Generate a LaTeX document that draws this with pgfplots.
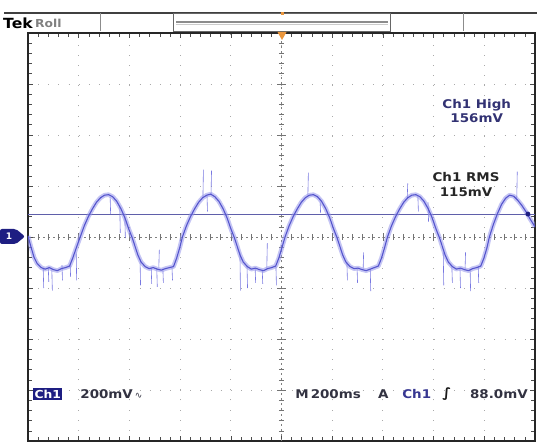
\documentclass[border=0pt]{standalone}
\usepackage{pgfplots}
\pgfplotsset{compat=1.18}
\usepackage{pgfplotstable}
\usepackage{fontspec}
\setmainfont{DejaVu Sans}
\newfontfamily\tek{DejaVu Sans}[FakeStretch=1.12]
\definecolor{trace}{RGB}{85,85,205}
\definecolor{halo}{RGB}{150,150,235}
\definecolor{spike}{RGB}{120,120,225}
\definecolor{navy}{RGB}{30,30,130}
\definecolor{gridc}{RGB}{170,170,170}
\definecolor{txt}{RGB}{50,50,65}
\definecolor{hitxt}{RGB}{50,50,115}
\definecolor{bluetxt}{RGB}{55,55,145}
\definecolor{orangec}{RGB}{235,150,60}
\definecolor{rmsline}{RGB}{95,95,170}

\pgfplotstableread{
x y
0.00 0.02
0.06 -0.20
0.12 -0.40
0.18 -0.52
0.26 -0.60
0.34 -0.63
0.42 -0.60
0.50 -0.64
0.58 -0.66
0.66 -0.62
0.74 -0.60
0.82 -0.57
0.88 -0.42
0.95 -0.22
1.03 0.00
1.11 0.22
1.19 0.40
1.27 0.55
1.35 0.68
1.43 0.77
1.51 0.82
1.59 0.83
1.67 0.79
1.75 0.70
1.83 0.56
1.91 0.38
1.99 0.15
2.05 0.00
2.11 -0.18
2.17 -0.36
2.23 -0.49
2.31 -0.58
2.39 -0.62
2.47 -0.60
2.55 -0.63
2.63 -0.65
2.71 -0.62
2.79 -0.60
2.87 -0.58
2.93 -0.42
2.99 -0.22
3.045 0.00
3.125 0.22
3.205 0.40
3.285 0.55
3.365 0.68
3.445 0.77
3.525 0.82
3.605 0.84
3.685 0.79
3.765 0.70
3.845 0.56
3.925 0.38
4.005 0.15
4.065 0.00
4.125 -0.18
4.185 -0.36
4.245 -0.49
4.325 -0.58
4.405 -0.63
4.485 -0.61
4.565 -0.64
4.645 -0.66
4.725 -0.62
4.805 -0.60
4.885 -0.57
4.945 -0.42
5.005 -0.22
5.07 0.00
5.15 0.22
5.23 0.40
5.31 0.55
5.39 0.68
5.47 0.77
5.55 0.82
5.63 0.83
5.71 0.79
5.79 0.70
5.87 0.56
5.95 0.38
6.03 0.15
6.09 0.00
6.15 -0.18
6.21 -0.36
6.27 -0.49
6.35 -0.58
6.43 -0.62
6.51 -0.61
6.59 -0.64
6.67 -0.66
6.75 -0.63
6.83 -0.60
6.91 -0.57
6.97 -0.42
7.03 -0.22
7.09 0.00
7.17 0.22
7.25 0.40
7.33 0.55
7.41 0.68
7.49 0.77
7.57 0.82
7.65 0.83
7.73 0.79
7.81 0.70
7.89 0.56
7.97 0.38
8.05 0.15
8.11 0.00
8.17 -0.18
8.23 -0.36
8.29 -0.49
8.37 -0.58
8.45 -0.63
8.53 -0.61
8.61 -0.64
8.69 -0.66
8.77 -0.62
8.85 -0.60
8.93 -0.57
8.99 -0.42
9.05 -0.22
9.10 0.00
9.18 0.25
9.26 0.46
9.34 0.64
9.42 0.76
9.50 0.82
9.58 0.80
9.66 0.72
9.74 0.62
9.82 0.50
9.90 0.36
10.00 0.20
}\trace

\begin{document}
\begin{tikzpicture}[x=1pt,y=1pt]
\useasboundingbox (0,0) rectangle (537,444);
% top status bar
\draw[black!75, line width=1.2pt] (4,431) -- (537,431);
\draw[black!45, line width=0.6pt] (100,431) -- (100,413);
\draw[black!45, line width=0.6pt] (463,431) -- (463,413);
\draw[black!60, line width=0.8pt] (173,413) rectangle (390,431);
\draw[black!45, line width=1.6pt] (176,422) -- (388,422);
\draw[black!20, line width=0.6pt] (176,419.5) -- (388,419.5);
\fill[orangec] (280.5,431.5) rectangle (283.5,428.5);
\node[anchor=west, inner sep=0pt] at (3,421) {\tek\bfseries\fontsize{14}{14}\selectfont Tek};
\node[anchor=west, inner sep=0pt] at (35,421) {\tek\bfseries\fontsize{11}{11}\selectfont\color{black!50} Roll};
% channel 1 ground marker
\fill[navy, rounded corners=2pt] (0,200) -- (16,200) -- (25,207.5) -- (16,215) -- (0,215) -- cycle;
\node[inner sep=0pt, text=white] at (9,207.5) {\bfseries\fontsize{9}{9}\selectfont 1};

\begin{axis}[at={(28pt,3pt)}, anchor=south west,
  width=507pt, height=408pt, scale only axis,
  xmin=0, xmax=10, ymin=-4, ymax=4,
  xtick={0,...,10}, ytick={-4,...,4},
  xticklabels={}, yticklabels={},
  minor x tick num=4, minor y tick num=4,
  major tick length=5pt, minor tick length=4pt,
  tick style={black!70, line width=0.6pt},
  grid=major,
  major grid style={gridc, line width=0.9pt, dash pattern=on 1pt off 9.14pt},
  axis line style={black!85, line width=1.4pt},
  clip=true]

% centre crosshair with division marks
\addplot[black!50, line width=0.7pt, dash pattern=on 2pt off 3.07pt] coordinates {(0,0) (10,0)};
\addplot[black!50, line width=0.7pt, dash pattern=on 2pt off 3.1pt] coordinates {(5,-4) (5,4)};
\addplot[black!55, line width=0.6pt, unbounded coords=jump] coordinates {
(0.2,-0.05) (0.2,0.05) (0.2,nan) (0.4,-0.05) (0.4,0.05) (0.4,nan) (0.6,-0.05) (0.6,0.05) (0.6,nan) (0.8,-0.05) (0.8,0.05) (0.8,nan) (1.0,-0.08) (1.0,0.08) (1.0,nan)
(1.2,-0.05) (1.2,0.05) (1.2,nan) (1.4,-0.05) (1.4,0.05) (1.4,nan) (1.6,-0.05) (1.6,0.05) (1.6,nan) (1.8,-0.05) (1.8,0.05) (1.8,nan) (2.0,-0.08) (2.0,0.08) (2.0,nan)
(2.2,-0.05) (2.2,0.05) (2.2,nan) (2.4,-0.05) (2.4,0.05) (2.4,nan) (2.6,-0.05) (2.6,0.05) (2.6,nan) (2.8,-0.05) (2.8,0.05) (2.8,nan) (3.0,-0.08) (3.0,0.08) (3.0,nan)
(3.2,-0.05) (3.2,0.05) (3.2,nan) (3.4,-0.05) (3.4,0.05) (3.4,nan) (3.6,-0.05) (3.6,0.05) (3.6,nan) (3.8,-0.05) (3.8,0.05) (3.8,nan) (4.0,-0.08) (4.0,0.08) (4.0,nan)
(4.2,-0.05) (4.2,0.05) (4.2,nan) (4.4,-0.05) (4.4,0.05) (4.4,nan) (4.6,-0.05) (4.6,0.05) (4.6,nan) (4.8,-0.05) (4.8,0.05) (4.8,nan)
(5.2,-0.05) (5.2,0.05) (5.2,nan) (5.4,-0.05) (5.4,0.05) (5.4,nan) (5.6,-0.05) (5.6,0.05) (5.6,nan) (5.8,-0.05) (5.8,0.05) (5.8,nan) (6.0,-0.08) (6.0,0.08) (6.0,nan)
(6.2,-0.05) (6.2,0.05) (6.2,nan) (6.4,-0.05) (6.4,0.05) (6.4,nan) (6.6,-0.05) (6.6,0.05) (6.6,nan) (6.8,-0.05) (6.8,0.05) (6.8,nan) (7.0,-0.08) (7.0,0.08) (7.0,nan)
(7.2,-0.05) (7.2,0.05) (7.2,nan) (7.4,-0.05) (7.4,0.05) (7.4,nan) (7.6,-0.05) (7.6,0.05) (7.6,nan) (7.8,-0.05) (7.8,0.05) (7.8,nan) (8.0,-0.08) (8.0,0.08) (8.0,nan)
(8.2,-0.05) (8.2,0.05) (8.2,nan) (8.4,-0.05) (8.4,0.05) (8.4,nan) (8.6,-0.05) (8.6,0.05) (8.6,nan) (8.8,-0.05) (8.8,0.05) (8.8,nan) (9.0,-0.08) (9.0,0.08) (9.0,nan)
(9.2,-0.05) (9.2,0.05) (9.2,nan) (9.4,-0.05) (9.4,0.05) (9.4,nan) (9.6,-0.05) (9.6,0.05) (9.6,nan) (9.8,-0.05) (9.8,0.05) (9.8,nan)
(4.95,-3.8) (5.05,-3.8) (5.05,nan) (4.95,-3.6) (5.05,-3.6) (5.05,nan) (4.95,-3.4) (5.05,-3.4) (5.05,nan) (4.95,-3.2) (5.05,-3.2) (5.05,nan) (4.92,-3.0) (5.08,-3.0) (5.08,nan)
(4.95,-2.8) (5.05,-2.8) (5.05,nan) (4.95,-2.6) (5.05,-2.6) (5.05,nan) (4.95,-2.4) (5.05,-2.4) (5.05,nan) (4.95,-2.2) (5.05,-2.2) (5.05,nan) (4.92,-2.0) (5.08,-2.0) (5.08,nan)
(4.95,-1.8) (5.05,-1.8) (5.05,nan) (4.95,-1.6) (5.05,-1.6) (5.05,nan) (4.95,-1.4) (5.05,-1.4) (5.05,nan) (4.95,-1.2) (5.05,-1.2) (5.05,nan) (4.92,-1.0) (5.08,-1.0) (5.08,nan)
(4.95,-0.8) (5.05,-0.8) (5.05,nan) (4.95,-0.6) (5.05,-0.6) (5.05,nan) (4.95,-0.4) (5.05,-0.4) (5.05,nan) (4.95,-0.2) (5.05,-0.2) (5.05,nan)
(4.95,0.2) (5.05,0.2) (5.05,nan) (4.95,0.4) (5.05,0.4) (5.05,nan) (4.95,0.6) (5.05,0.6) (5.05,nan) (4.95,0.8) (5.05,0.8) (5.05,nan) (4.92,1.0) (5.08,1.0) (5.08,nan)
(4.95,1.2) (5.05,1.2) (5.05,nan) (4.95,1.4) (5.05,1.4) (5.05,nan) (4.95,1.6) (5.05,1.6) (5.05,nan) (4.95,1.8) (5.05,1.8) (5.05,nan) (4.92,2.0) (5.08,2.0) (5.08,nan)
(4.95,2.2) (5.05,2.2) (5.05,nan) (4.95,2.4) (5.05,2.4) (5.05,nan) (4.95,2.6) (5.05,2.6) (5.05,nan) (4.95,2.8) (5.05,2.8) (5.05,nan) (4.92,3.0) (5.08,3.0) (5.08,nan)
(4.95,3.2) (5.05,3.2) (5.05,nan) (4.95,3.4) (5.05,3.4) (5.05,nan) (4.95,3.6) (5.05,3.6) (5.05,nan) (4.95,3.8) (5.05,3.8) (5.05,nan)
};

% trigger level line
\addplot[rmsline, line width=1.3pt] coordinates {(0,0.44) (10,0.44)};

% noise spikes
\addplot[spike, line width=0.6pt, unbounded coords=jump] coordinates {
(0.30,-0.62) (0.31,-1.00) (0.31,nan)
(0.40,-0.60) (0.41,-0.88) (0.41,nan)
(0.47,-0.64) (0.48,-1.05) (0.48,nan)
(0.67,-0.55) (0.68,-0.85) (0.68,nan)
(0.83,-0.50) (0.84,-0.78) (0.84,nan)
(0.95,-0.30) (0.96,-0.85) (0.96,nan)
(1.62,0.78) (1.63,0.45) (1.63,nan)
(1.81,0.60) (1.82,0.08) (1.82,nan)
(1.91,0.40) (1.92,-0.02) (1.92,nan)
(2.21,-0.45) (2.22,-0.95) (2.22,nan)
(2.43,-0.60) (2.44,-0.92) (2.44,nan)
(2.54,-0.62) (2.55,-0.98) (2.55,nan)
(2.58,-0.60) (2.59,-0.25) (2.59,nan)
(2.66,-0.62) (2.67,-0.90) (2.67,nan)
(2.84,-0.60) (2.85,-0.85) (2.85,nan)
(3.45,0.77) (3.46,1.32) (3.46,nan)
(3.53,0.82) (3.54,0.50) (3.54,nan)
(3.61,0.84) (3.62,1.30) (3.62,nan)
(4.18,-0.30) (4.19,-1.05) (4.19,nan)
(4.32,-0.58) (4.33,-1.00) (4.33,nan)
(4.48,-0.61) (4.49,-0.90) (4.49,nan)
(4.62,-0.65) (4.63,-0.92) (4.63,nan)
(4.71,-0.62) (4.72,-0.12) (4.72,nan)
(4.89,-0.57) (4.90,-0.95) (4.90,nan)
(5.52,0.82) (5.53,1.26) (5.53,nan)
(5.76,0.75) (5.77,0.48) (5.77,nan)
(6.29,-0.50) (6.30,-0.85) (6.30,nan)
(6.49,-0.61) (6.50,-0.90) (6.50,nan)
(6.61,-0.64) (6.62,-0.30) (6.62,nan)
(6.75,-0.63) (6.76,-1.06) (6.76,nan)
(7.48,0.77) (7.49,1.05) (7.49,nan)
(7.69,0.80) (7.70,0.50) (7.70,nan)
(7.89,0.68) (7.90,0.30) (7.90,nan)
(8.19,-0.30) (8.20,-0.95) (8.20,nan)
(8.36,-0.57) (8.37,-0.90) (8.37,nan)
(8.52,-0.61) (8.53,-1.00) (8.53,nan)
(8.62,-0.64) (8.63,-0.30) (8.63,nan)
(8.72,-0.63) (8.73,-1.06) (8.73,nan)
(8.88,-0.58) (8.89,-0.90) (8.89,nan)
(9.64,0.76) (9.65,1.28) (9.65,nan)
};

% waveform: halo then trace
\addplot[halo, line width=4.6pt, opacity=0.55, line join=round] table[x=x,y=y] {\trace};
\addplot[trace, line width=1.1pt, line join=round] table[x=x,y=y] {\trace};
\addplot[only marks, mark=*, mark size=2.2pt, navy] coordinates {(9.86,0.45)};

% readouts
\node[text=hitxt, align=center, font=\tek\bfseries\fontsize{12}{14.5}\selectfont] at (axis cs:8.85,2.47) {Ch1 High\\156mV};
\node[text=black!85, align=center, font=\tek\bfseries\fontsize{12}{14.5}\selectfont] at (axis cs:8.64,1.03) {Ch1 RMS\\115mV};

\node[fill=navy, text=white, inner sep=1.5pt, font=\tek\bfseries\fontsize{11}{11}\selectfont] at (axis cs:0.39,-3.08) {Ch1};
\node[anchor=west, inner sep=0pt, text=txt, font=\tek\bfseries\fontsize{12}{12}\selectfont] at (axis cs:1.03,-3.08) {200mV\,{\normalfont\fontsize{9}{9}\selectfont ∿}};
\node[anchor=west, inner sep=0pt, text=txt, font=\tek\bfseries\fontsize{12}{12}\selectfont] at (axis cs:5.27,-3.08) {M\,200ms};
\node[anchor=west, inner sep=0pt, text=txt, font=\tek\bfseries\fontsize{12}{12}\selectfont] at (axis cs:6.90,-3.08) {A};
\node[anchor=west, inner sep=0pt, text=bluetxt, font=\tek\bfseries\fontsize{12}{12}\selectfont] at (axis cs:7.38,-3.08) {Ch1};
\node[inner sep=0pt, text=black!90, font=\tek\bfseries\fontsize{13}{13}\selectfont] at (axis cs:8.26,-3.08) {\itshape ∫};
\node[anchor=east, inner sep=0pt, text=txt, font=\tek\bfseries\fontsize{12}{12}\selectfont] at (axis cs:9.86,-3.08) {88.0mV};
\end{axis}
% trigger position marker on top edge
\fill[orangec] (277.5,412) -- (286.5,412) -- (282,404) -- cycle;
\end{tikzpicture}
\end{document}
